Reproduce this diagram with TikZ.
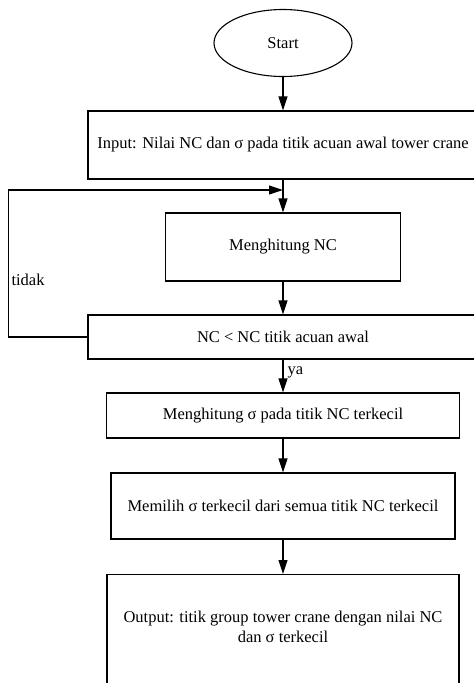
\documentclass[tikz,border=0pt]{standalone}
\usepackage{fontspec}
\setmainfont{Liberation Serif}
\usetikzlibrary{shapes.geometric,arrows.meta}

\begin{document}
\begin{tikzpicture}[x=1pt,y=1pt,line width=1.1pt,
  font=\fontsize{16.5}{20}\selectfont,
  box/.style={draw,rectangle,minimum height=#1,inner sep=2pt},
  flow/.style={-{Triangle[length=14pt,width=9pt]}}]
\useasboundingbox (0,0) rectangle (474,-683);
\node[draw,ellipse,minimum width=138,minimum height=67] (start) at (283,-43) {Start};
\node[box=68,minimum width=390] (input) at (283,-145) {Input: Nilai NC dan σ pada titik acuan awal tower crane};
\coordinate (join) at (283,-190);
\node[box=68,minimum width=235] (calc) at (283,-247) {Menghitung NC};
\node[box=44,minimum width=390] (check) at (283,-337) {NC < NC titik acuan awal};
\node[box=45,minimum width=353] (sigma) at (283,-415.5) {Menghitung σ pada titik NC terkecil};
\node[box=66,minimum width=344] (pick) at (283,-506) {Memilih σ terkecil dari semua titik NC terkecil};
\node[box=130,minimum width=352,anchor=north] (output) at (283,-574) {};
\node[align=center] (outtext) at ([yshift=-53]output.north) {Output: titik group tower crane dengan nilai NC\\ dan σ terkecil};
 \draw[flow] (start) -- (input);
 \draw (input) -- (join);
 \draw[flow] (join) -- (calc);
 \draw[flow] (calc) -- (check);
 \draw[flow] (check) -- (sigma) node[pos=0.4,anchor=west,inner sep=4pt] (ya) {ya};
 \draw[flow] (sigma) -- (pick);
 \draw[flow] (pick) -- (output);
 \draw[flow] (check.west) -- ++(-79,0) |- (join);
\node[anchor=west,inner sep=0pt] (tidak) at (11,-280) {tidak};
\end{tikzpicture}
\end{document}
